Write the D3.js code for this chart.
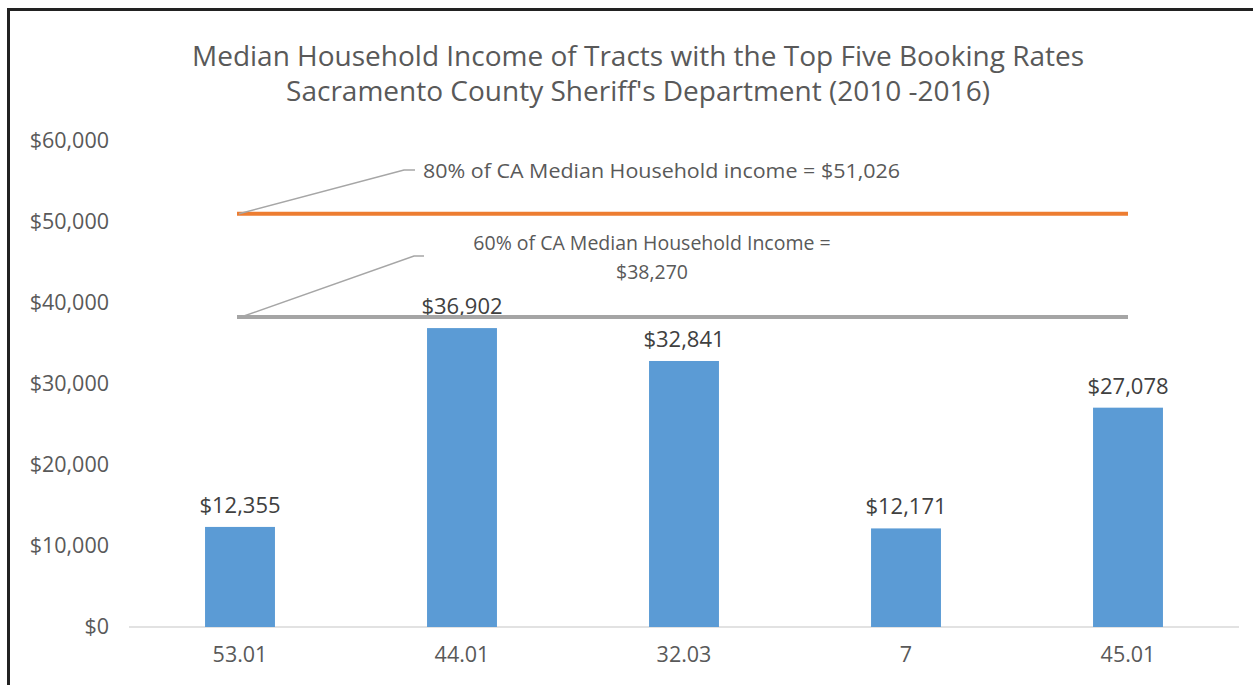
<!DOCTYPE html>
<html>
<head>
<meta charset="utf-8">
<script src="https://cdn.jsdelivr.net/npm/d3@7"></script>
<style>
  body { margin: 0; background: #fff; }
  text { font-family: "Open Sans", "Noto Sans", sans-serif; }
</style>
</head>
<body>
<div id="chart"></div>
<script>
// data
var tracts = ["53.01", "44.01", "32.03", "7", "45.01"];
var incomes = [12355, 36902, 32841, 12171, 27078];
var yTicks = [0, 10000, 20000, 30000, 40000, 50000, 60000];
var refValues = [51026, 38270];
var refLabels = [["80% of CA Median Household income = $51,026"],
                 ["60% of CA Median Household Income =", "$38,270"]];
var refColors = ["#ed7d31", "#a5a5a5"];
var titleLines = ["Median Household Income of Tracts with the Top Five Booking Rates",
                  "Sacramento County Sheriff's Department (2010 -2016)"];

var W = 1253, H = 685;
var margin = {top: 141, right: 14, bottom: 58, left: 129};

var svg = d3.select("#chart").append("svg")
    .attr("width", W)
    .attr("height", H);

// frame (left + top only)
svg.append("path")
    .attr("d", "M8.5," + H + " L8.5,9.5 L" + W + ",9.5")
    .attr("fill", "none")
    .attr("stroke", "#222")
    .attr("stroke-width", 3);

var x = d3.scaleBand()
    .domain(tracts)
    .range([margin.left, W - margin.right])
    .paddingInner(0.685)
    .paddingOuter(0.3425);

var y = d3.scaleLinear()
    .domain([0, 60000])
    .range([H - margin.bottom, margin.top]);

var fmt = d3.format("$,");

// title
svg.append("g").selectAll("text")
    .data(titleLines)
    .enter().append("text")
    .attr("x", 638)
    .attr("y", function(d, i) { return 66 + i * 35; })
    .attr("text-anchor", "middle")
    .attr("fill", "#595959")
    .attr("font-size", 28)
    .text(function(d) { return d; });

// y axis labels
var yAxis = svg.append("g")
    .attr("transform", "translate(" + margin.left + ",0)")
    .call(d3.axisLeft(y).tickValues(yTicks).tickFormat(fmt).tickSize(0).tickPadding(20));
yAxis.select(".domain").remove();
yAxis.selectAll("text")
    .attr("fill", "#595959")
    .attr("font-size", 21.5);

// baseline
svg.append("line")
    .attr("x1", margin.left).attr("x2", W - margin.right)
    .attr("y1", y(0)).attr("y2", y(0))
    .attr("stroke", "#d9d9d9")
    .attr("stroke-width", 1.5);

// x axis labels
var xAxis = svg.append("g")
    .attr("transform", "translate(0," + y(0) + ")")
    .call(d3.axisBottom(x).tickSize(0).tickPadding(20));
xAxis.select(".domain").remove();
xAxis.selectAll("text")
    .attr("fill", "#595959")
    .attr("font-size", 21.5);

// bars
svg.append("g").selectAll("rect")
    .data(incomes)
    .enter().append("rect")
    .attr("x", function(d, i) { return x(tracts[i]); })
    .attr("y", function(d) { return y(d); })
    .attr("width", x.bandwidth())
    .attr("height", function(d) { return y(0) - y(d); })
    .attr("fill", "#5b9bd5");

// bar labels
svg.append("g").selectAll("text")
    .data(incomes)
    .enter().append("text")
    .attr("x", function(d, i) { return x(tracts[i]) + x.bandwidth() / 2; })
    .attr("y", function(d) { return y(d) - 14; })
    .attr("text-anchor", "middle")
    .attr("fill", "#404040")
    .attr("font-size", 22)
    .text(function(d) { return fmt(d); });

// reference lines
var xStart = x(tracts[0]) + x.bandwidth() / 2 - 3;
var xEnd = x(tracts[tracts.length - 1]) + x.bandwidth() / 2;

svg.append("g").selectAll("line")
    .data(refValues)
    .enter().append("line")
    .attr("x1", xStart).attr("x2", xEnd)
    .attr("y1", function(d) { return y(d); })
    .attr("y2", function(d) { return y(d); })
    .attr("stroke", function(d, i) { return refColors[i]; })
    .attr("stroke-width", 4);

// leader lines
var leaders = [[[xStart + 2, y(refValues[0])], [404, 170], [415, 170]],
               [[xStart + 4, y(refValues[1])], [414, 256], [424, 256]]];
svg.append("g").selectAll("path")
    .data(leaders)
    .enter().append("path")
    .attr("d", d3.line())
    .attr("fill", "none")
    .attr("stroke", "#a6a6a6")
    .attr("stroke-width", 1.5);

// annotation labels
svg.append("text")
    .attr("x", 423).attr("y", 178)
    .attr("fill", "#595959")
    .attr("font-size", 20)
    .attr("textLength", 477)
    .attr("lengthAdjust", "spacingAndGlyphs")
    .text(refLabels[0][0]);

svg.append("g").selectAll("text")
    .data(refLabels[1])
    .enter().append("text")
    .attr("x", 652)
    .attr("y", function(d, i) { return 250 + i * 29; })
    .attr("text-anchor", "middle")
    .attr("fill", "#595959")
    .attr("font-size", 19.5)
    .text(function(d) { return d; });
</script>
</body>
</html>
